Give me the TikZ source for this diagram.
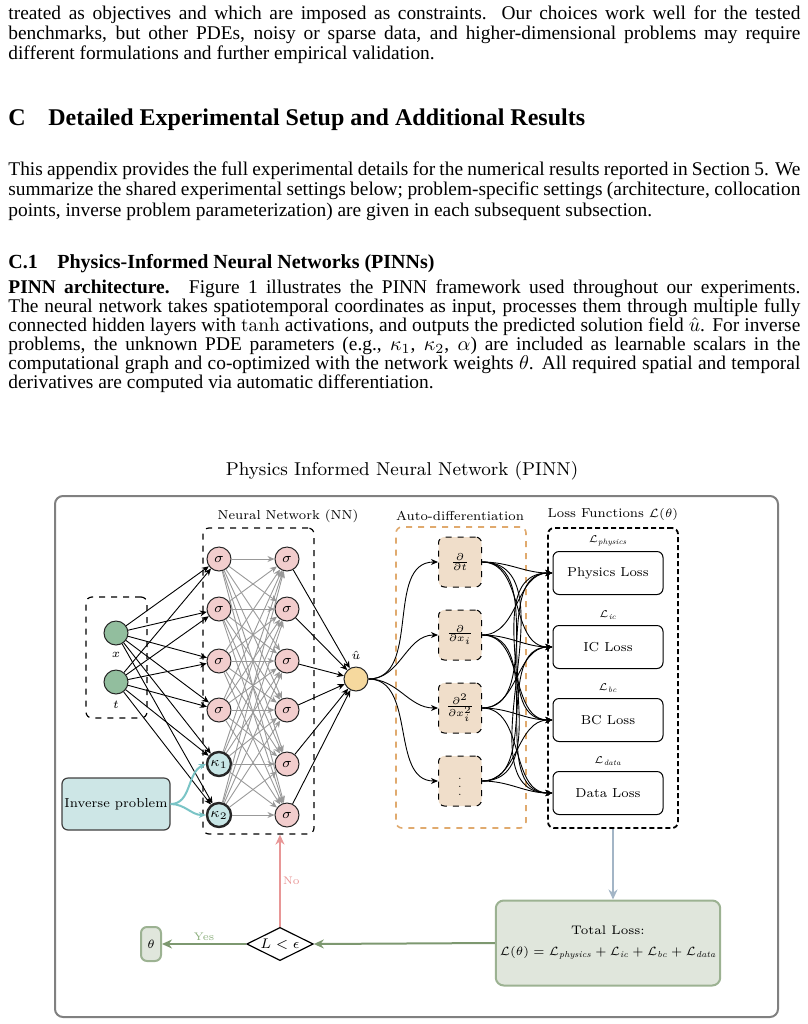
\documentclass[tikz,border=0pt]{standalone}
\usepackage{amsmath,amssymb}
\usepackage{fontspec}
\usepackage{xcolor}
\usepackage{tikz}
\usetikzlibrary{shapes,arrows,positioning,calc,arrows.meta,shapes.geometric}

\newfontfamily\bodyfont{Liberation Serif}
\newcommand{\fullline}[1]{\makebox[396pt][s]{#1}}

\definecolor{sigfill}{RGB}{242,205,205}
\definecolor{infill}{RGB}{146,190,158}
\definecolor{outfill}{RGB}{246,217,158}
\definecolor{kapfill}{RGB}{200,230,230}
\definecolor{invfill}{RGB}{205,230,230}
\definecolor{invarrow}{RGB}{122,196,198}
\definecolor{adfill}{RGB}{240,222,202}
\definecolor{adorange}{RGB}{224,170,110}
\definecolor{totfill}{RGB}{224,230,220}
\definecolor{totdraw}{RGB}{156,178,146}
\definecolor{yesgreen}{RGB}{125,152,112}
\definecolor{yeslabel}{RGB}{140,175,125}
\definecolor{nored}{RGB}{232,150,150}
\definecolor{sumblue}{RGB}{163,181,198}
\definecolor{framegray}{RGB}{128,128,128}

\begin{document}
\begin{tikzpicture}[x=0.5pt, y=-0.5pt,
    txt/.style={anchor=base west, inner sep=0pt, font=\bodyfont\fontsize{9.7}{11}\selectfont},
    sechead/.style={anchor=base west, inner sep=0pt, font=\bodyfont\bfseries\fontsize{12}{14}\selectfont},
    subhead/.style={anchor=base west, inner sep=0pt, font=\bodyfont\bfseries\fontsize{10}{12}\selectfont},
    fig/.style={font=\fontsize{6.5}{8}\selectfont},
    small/.style={font=\fontsize{5.5}{7}\selectfont, inner sep=1pt},
    neuron/.style={circle, draw=black!85, line width=0.5pt, minimum size=12pt, inner sep=0pt,
        font=\fontsize{7.5}{9}\selectfont},
    sig/.style={neuron, fill=sigfill},
    inp/.style={neuron, fill=infill},
    kap/.style={neuron, fill=kapfill, line width=1.2pt},
    outp/.style={neuron, fill=outfill},
    groupbox/.style={draw, dashed, rounded corners=3pt, line width=0.6pt},
    adbox/.style={draw, dashed, rounded corners=3pt, fill=adfill, line width=0.5pt,
        minimum width=21.5pt, minimum height=25pt, inner sep=0pt, font=\fontsize{5}{6}\selectfont},
    lossbox/.style={draw, rounded corners=3pt, line width=0.5pt, minimum width=55pt,
        minimum height=21.5pt, fig},
    arr/.style={-{Stealth[length=3.5pt,width=3pt]}, line width=0.45pt},
    grayarr/.style={arr, draw=black!40},
    bigarr/.style={-{Stealth[length=5pt,width=4.5pt]}, line width=1pt}
]
\useasboundingbox (0,0) rectangle (808,1024);

% Text above the figure
\node[txt] (p1a) at (8,19.5) {\fullline{treated as objectives and which are imposed as constraints. Our choices work well for the tested}};
\node[txt] (p1b) at (8,39.5) {\fullline{benchmarks, but other PDEs, noisy or sparse data, and higher-dimensional problems may require}};
\node[txt] (p1c) at (8,59.5) {different formulations and further empirical validation.};

\node[sechead] (secC) at (8,125) {C};
\node[sechead] (secCt) at (48,125) {Detailed Experimental Setup and Additional Results};

\node[txt] (p2a) at (8,175) {\fullline{This appendix provides the full experimental details for the numerical results reported in Section 5. We}};
\node[txt] (p2b) at (8,195.5) {\fullline{summarize the shared experimental settings below; problem-specific settings (architecture, collocation}};
\node[txt] (p2c) at (8,216) {points, inverse problem parameterization) are given in each subsequent subsection.};

\node[subhead] (secC1) at (8,268) {C.1};
\node[subhead] (secC1t) at (57,268) {Physics-Informed Neural Networks (PINNs)};

\node[txt] (p3a) at (8,293) {\fullline{\textbf{PINN architecture.}\quad Figure 1 illustrates the PINN framework used throughout our experiments.}};
\node[txt] (p3b) at (8,312) {\fullline{The neural network takes spatiotemporal coordinates as input, processes them through multiple fully}};
\node[txt] (p3c) at (8,331) {\fullline{connected hidden layers with $\tanh$ activations, and outputs the predicted solution field $\hat{u}$. For inverse}};
\node[txt] (p3d) at (8,350) {\fullline{problems, the unknown PDE parameters (e.g., $\kappa_1$, $\kappa_2$, $\alpha$) are included as learnable scalars in the}};
\node[txt] (p3e) at (8,369) {\fullline{computational graph and co-optimized with the network weights $\theta$. All required spatial and temporal}};
\node[txt] (p3f) at (8,388) {derivatives are computed via automatic differentiation.};

% Figure frame and titles
\node[font=\fontsize{9.3}{11}\selectfont] (title) at (402,471) {Physics Informed Neural Network (PINN)};
\draw[framegray, line width=1pt, rounded corners=4pt] (55,496) rectangle (778,1017);
\node[fig] (nnlab) at (288,516) {Neural Network (NN)};
\node[fig] (adlab) at (460,516) {Auto-differentiation};
\node[fig] (losslab) at (613,514) {Loss Functions $\mathcal{L}(\theta)$};

% Group boxes
\node[groupbox, minimum width=30.5pt, minimum height=60.5pt] (inbox) at (116.5,657.5) {};
\node[groupbox, minimum width=55.5pt, minimum height=153pt] (nnbox) at (258.5,681) {};
\node[groupbox, draw=adorange, line width=0.8pt, minimum width=65pt, minimum height=150.5pt] (adgroup) at (461,677.5) {};
\node[groupbox, line width=0.9pt, dash pattern=on 2.5pt off 1.5pt, minimum width=65pt, minimum height=150pt] (lossgroup) at (613,678) {};

% Inputs
\node[inp] (in1) at (116,633) {};
\node[fig, below=0pt of in1] (in1lab) {$x$};
\node[inp] (in2) at (116,682) {};
\node[fig, below=0pt of in2] (in2lab) {$t$};

% Hidden layers
\foreach \n/\y in {1/559, 2/609, 3/661, 4/710} {
    \node[sig] (ha\n) at (219,\y) {$\sigma$};
}
\node[kap] (ha5) at (219,764) {$\kappa_1$};
\node[kap] (ha6) at (219,815) {$\kappa_2$};
\foreach \n/\y in {1/559, 2/609, 3/661, 4/710, 5/764, 6/815} {
    \node[sig] (hb\n) at (287,\y) {$\sigma$};
}

% Output
\node[outp] (uhat) at (356,679) {};
\node[fig, above=0pt of uhat] (uhatlab) {$\hat{u}$};

% Network connections
\foreach \i in {1,...,6} {
    \foreach \j in {1,...,6} {
        \draw[grayarr] (ha\i) -- (hb\j);
    }
}
\foreach \j in {1,...,6} {
    \draw[arr] (in1) -- (ha\j);
    \draw[arr] (in2) -- (ha\j);
    \draw[arr] (hb\j) -- (uhat);
}

% Inverse problem
\node[draw=black!75, fill=invfill, rounded corners=3pt, line width=0.6pt, minimum width=54pt,
    minimum height=26pt, inner sep=1pt, fig] (inv) at (116,804) {Inverse problem};
\draw[arr, invarrow, line width=1pt] (inv.east) to[out=0, in=205] (ha5.west);
\draw[arr, invarrow, line width=1pt] (inv.east) to[out=0, in=180] (ha6.west);

% Auto-differentiation
\node[adbox] (d1) at (460,562) {$\frac{\partial}{\partial t}$};
\node[adbox] (d2) at (460,635) {$\frac{\partial}{\partial x_i}$};
\node[adbox] (d3) at (460,708) {$\frac{\partial^2}{\partial x_i^2}$};
\node[adbox] (d4) at (460,781) {$\vdots$};

% Losses
\node[lossbox] (l1) at (608,573) {Physics Loss};
\node[lossbox] (l2) at (608,647) {IC Loss};
\node[lossbox] (l3) at (608,720) {BC Loss};
\node[lossbox] (l4) at (608,793) {Data Loss};
\node[small, above=1.5pt of l1] (l1lab) {$\mathcal{L}_{\mathit{physics}}$};
\node[small, above=1.5pt of l2] (l2lab) {$\mathcal{L}_{\mathit{ic}}$};
\node[small, above=1.5pt of l3] (l3lab) {$\mathcal{L}_{\mathit{bc}}$};
\node[small, above=1.5pt of l4] (l4lab) {$\mathcal{L}_{\mathit{data}}$};

\foreach \k in {1,...,4} {
    \draw[arr] (uhat.east) to[out=0, in=180] (d\k.west);
    \foreach \m in {1,...,4} {
        \draw[arr] (d\k.east) to[out=0, in=180] (l\m.west);
    }
}

% Total loss and stopping test
\node[draw=totdraw, fill=totfill, rounded corners=4pt, line width=1pt, minimum width=112pt,
    minimum height=42.5pt, inner sep=2pt, align=center, font=\fontsize{6.2}{7.5}\selectfont] (tot) at (608,943)
    {Total Loss:\\[3pt] $\mathcal{L}(\theta) = \mathcal{L}_{\mathit{physics}} + \mathcal{L}_{\mathit{ic}} + \mathcal{L}_{\mathit{bc}} + \mathcal{L}_{\mathit{data}}$};
\node[diamond, draw, aspect=2, inner sep=0.5pt, line width=0.6pt, font=\fontsize{7}{8}\selectfont] (test) at (280,944) {$L < \epsilon$};
\node[draw=totdraw, fill=totfill, rounded corners=3pt, line width=1pt, minimum width=10pt,
    minimum height=17pt, inner sep=1pt, fig] (theta) at (151,944) {$\theta$};

\draw[bigarr, sumblue] (lossgroup.south) -- (lossgroup.south |- tot.north);
\draw[bigarr, yesgreen] (tot.west) -- (test.east);
\draw[bigarr, yesgreen] (test.west) -- node[small, above, yeslabel] (yes) {Yes} (theta.east);
\draw[bigarr, nored] (test.north) -- node[small, right, nored] (no) {No} (test.north |- nnbox.south);
\end{tikzpicture}
\end{document}
